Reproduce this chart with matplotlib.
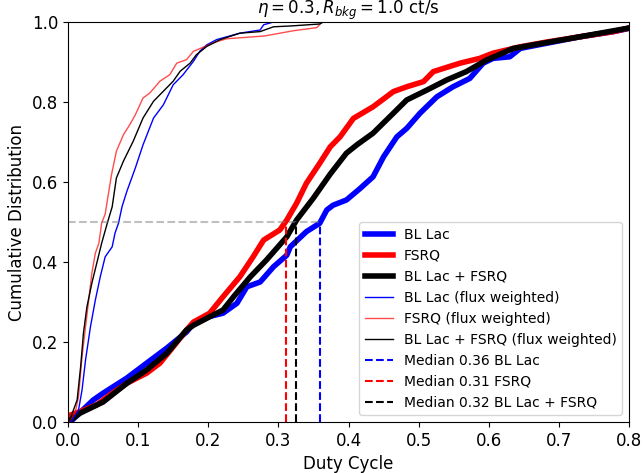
import numpy as np
import matplotlib.pyplot as plt

# thick curves: cumulative distribution of duty cycle
bl_x = [0.0, 0.003, 0.036, 0.05, 0.084, 0.112, 0.141, 0.169, 0.179, 0.193, 0.221, 0.241, 0.255, 0.274, 0.293,
        0.312, 0.317, 0.34, 0.359, 0.369, 0.378, 0.397, 0.416, 0.435, 0.45, 0.469, 0.483, 0.502, 0.526, 0.549,
        0.573, 0.592, 0.606, 0.63, 0.645, 0.683, 0.73, 0.778, 0.80]
bl_y = [0.0, 0.0, 0.055, 0.072, 0.11, 0.147, 0.185, 0.225, 0.247, 0.26, 0.272, 0.297, 0.338, 0.35, 0.388,
        0.417, 0.438, 0.476, 0.497, 0.53, 0.542, 0.555, 0.583, 0.613, 0.663, 0.713, 0.734, 0.772, 0.813, 0.838,
        0.859, 0.897, 0.909, 0.913, 0.934, 0.947, 0.963, 0.976, 0.984]

fsrq_x = [0.0, 0.003, 0.017, 0.041, 0.06, 0.084, 0.112, 0.131, 0.15, 0.169, 0.179, 0.202, 0.221, 0.245, 0.264,
          0.279, 0.302, 0.312, 0.326, 0.34, 0.359, 0.374, 0.388, 0.407, 0.435, 0.464, 0.483, 0.507, 0.521, 0.559,
          0.587, 0.606, 0.645, 0.683, 0.73, 0.778, 0.80]
fsrq_y = [0.0, 0.017, 0.026, 0.043, 0.068, 0.097, 0.122, 0.147, 0.188, 0.23, 0.25, 0.272, 0.313, 0.363, 0.413,
          0.455, 0.48, 0.505, 0.547, 0.597, 0.647, 0.688, 0.713, 0.759, 0.788, 0.826, 0.838, 0.851, 0.876, 0.897,
          0.909, 0.922, 0.938, 0.95, 0.963, 0.976, 0.985]

all_x = [0.0, 0.003, 0.017, 0.05, 0.084, 0.112, 0.141, 0.169, 0.179, 0.202, 0.221, 0.236, 0.26, 0.283, 0.312,
         0.326, 0.35, 0.374, 0.397, 0.412, 0.435, 0.464, 0.483, 0.512, 0.54, 0.568, 0.597, 0.635, 0.664, 0.73, 0.80]
all_y = [0.0, 0.004, 0.022, 0.05, 0.097, 0.13, 0.172, 0.23, 0.242, 0.263, 0.28, 0.313, 0.363, 0.405, 0.463,
         0.505, 0.56, 0.62, 0.672, 0.693, 0.722, 0.772, 0.805, 0.83, 0.855, 0.876, 0.905, 0.934, 0.943, 0.963, 0.985]

# thin curves: flux weighted
blw_x = [0.0, 0.004, 0.015, 0.02, 0.025, 0.032, 0.039, 0.046, 0.053, 0.063, 0.067, 0.072, 0.077, 0.084, 0.096,
         0.107, 0.122, 0.136, 0.15, 0.164, 0.179, 0.188, 0.198, 0.212, 0.245, 0.274, 0.279, 0.293]
blw_y = [0.0, 0.0, 0.03, 0.08, 0.155, 0.238, 0.305, 0.363, 0.413, 0.438, 0.472, 0.497, 0.538, 0.577, 0.635,
         0.693, 0.76, 0.793, 0.843, 0.868, 0.902, 0.927, 0.943, 0.956, 0.972, 0.98, 0.993, 1.0]

fsrqw_x = [0.0, 0.001, 0.01, 0.015, 0.02, 0.025, 0.029, 0.034, 0.039, 0.044, 0.048, 0.053, 0.062, 0.069, 0.079,
           0.088, 0.096, 0.107, 0.117, 0.131, 0.145, 0.155, 0.169, 0.179, 0.193, 0.207, 0.226, 0.28, 0.321, 0.355, 0.362]
fsrqw_y = [0.0, 0.0, 0.022, 0.063, 0.163, 0.238, 0.297, 0.372, 0.422, 0.447, 0.497, 0.52, 0.618, 0.677, 0.718,
           0.743, 0.768, 0.81, 0.823, 0.852, 0.868, 0.897, 0.906, 0.927, 0.937, 0.948, 0.958, 0.965, 0.978, 0.986, 1.0]

allw_x = [0.0, 0.004, 0.013, 0.018, 0.022, 0.027, 0.034, 0.041, 0.048, 0.056, 0.063, 0.069, 0.079, 0.093, 0.107,
          0.122, 0.136, 0.15, 0.16, 0.174, 0.183, 0.198, 0.217, 0.245, 0.274, 0.293, 0.317, 0.359, 0.364]
allw_y = [0.0, 0.012, 0.055, 0.138, 0.222, 0.288, 0.347, 0.397, 0.447, 0.497, 0.538, 0.61, 0.652, 0.702, 0.76,
          0.802, 0.827, 0.852, 0.877, 0.897, 0.918, 0.939, 0.956, 0.972, 0.976, 0.988, 0.99, 0.995, 1.0]

# medians
med_bl = 0.3596
med_fsrq = 0.311
med_all = 0.3246

fig, ax = plt.subplots(figsize=(6.44, 4.73), dpi=100)
fig.subplots_adjust(left=0.1056, right=0.9767, bottom=0.1078, top=0.9535)

ax.plot(bl_x, bl_y, color='blue', lw=4, label='BL Lac')
ax.plot(fsrq_x, fsrq_y, color='red', lw=4, label='FSRQ')
ax.plot(all_x, all_y, color='black', lw=4, label='BL Lac + FSRQ')
ax.plot(blw_x, blw_y, color='blue', lw=1, label='BL Lac (flux weighted)')
ax.plot(fsrqw_x, fsrqw_y, color='red', lw=1, alpha=0.7, label='FSRQ (flux weighted)')
ax.plot(allw_x, allw_y, color='black', lw=1, label='BL Lac + FSRQ (flux weighted)')

ax.plot([0, max(med_bl, med_fsrq, med_all)], [0.5, 0.5], color='grey', ls='--', lw=1.5, alpha=0.5)
ax.plot([med_bl, med_bl], [0, 0.5], color='blue', ls='--', lw=1.5, label='Median %.2f BL Lac' % med_bl)
ax.plot([med_fsrq, med_fsrq], [0, 0.5], color='red', ls='--', lw=1.5, label='Median %.2f FSRQ' % med_fsrq)
ax.plot([med_all, med_all], [0, 0.5], color='black', ls='--', lw=1.5, label='Median %.2f BL Lac + FSRQ' % med_all)

ax.set_xlim(0, 0.8)
ax.set_ylim(0, 1.0)
ax.tick_params(labelsize=12)
ax.set_xlabel('Duty Cycle', fontsize=12)
ax.set_ylabel('Cumulative Distribution', fontsize=12)
ax.set_title(r'$\eta = 0.3, R_{bkg} = 1.0$ ct/s', fontsize=12)
ax.legend(loc='lower right', fontsize=10)

plt.savefig('out.png')
